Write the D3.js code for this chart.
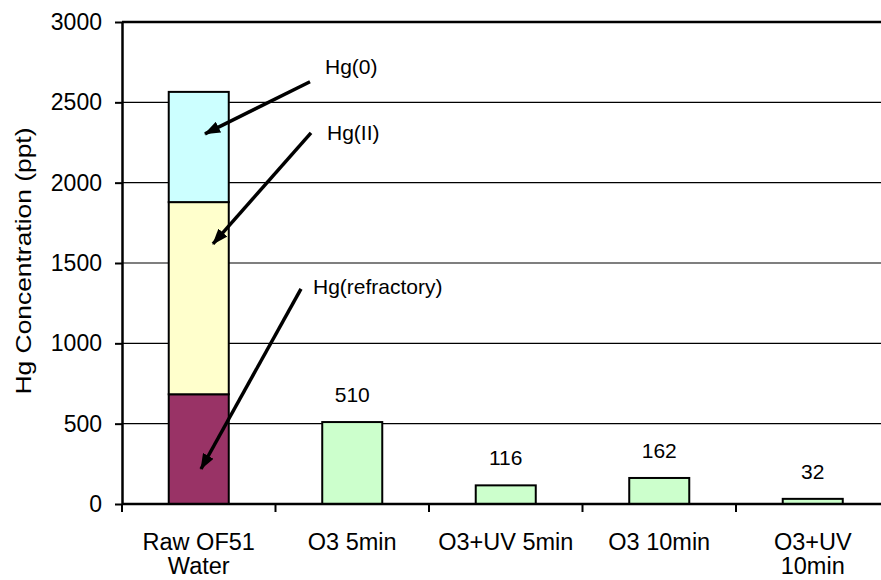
<!doctype html>
<html lang="en">
<head>
<meta charset="utf-8">
<title>Hg Concentration</title>
<script src="https://cdn.jsdelivr.net/npm/d3@7"></script>
<style>
	body { margin: 0; background: #fff; }
	svg { font-family: Arial, "Liberation Sans", sans-serif; display: block; }
</style>
</head>
<body>
<svg id="chart" width="881" height="580"></svg>
<script>
// data
var categories = ["Raw OF51 Water", "O3 5min", "O3+UV 5min", "O3 10min", "O3+UV 10min"];
var categoryLines = [["Raw OF51", "Water"], ["O3 5min"], ["O3+UV 5min"], ["O3 10min"], ["O3+UV", "10min"]];
var rawParts = ["Hg(refractory)", "Hg(II)", "Hg(0)"];
var rawValues = [683, 1196, 686];
var treated = ["O3 5min", "O3+UV 5min", "O3 10min", "O3+UV 10min"];
var treatedValues = [510, 116, 162, 32];
var yTicks = [0, 500, 1000, 1500, 2000, 2500, 3000];
// annotations: label, text value, arrow start value, arrow tip value
var noteLabels = ["Hg(0)", "Hg(II)", "Hg(refractory)"];
var noteTextValues = [2677, 2266, 1308];
var noteStartValues = [2628, 2310, 1339];
var noteTipValues = [2304, 1619, 218];

var partColors = {"Hg(refractory)": "#993366", "Hg(II)": "#ffffcc", "Hg(0)": "#ccffff"};

var svg = d3.select("#chart");
var plotLeft = 122, plotRight = 889.5, plotTop = 22, plotBottom = 504;

var xBand = d3.scaleBand().domain(categories).range([plotLeft, plotRight]).paddingInner(0.609).paddingOuter(0.3045);
var xSlot = d3.scaleBand().domain(categories).range([plotLeft, plotRight]).padding(0);
var yScale = d3.scaleLinear().domain([0, 3000]).range([plotBottom, plotTop]);

// gridlines
svg.append("g").selectAll("line.grid")
	.data(yTicks.filter(function(d) { return d > 0; }))
	.enter().append("line")
	.attr("class", "grid")
	.attr("x1", plotLeft).attr("x2", 881)
	.attr("y1", function(d) { return yScale(d); })
	.attr("y2", function(d) { return yScale(d); })
	.attr("stroke", "#000")
	.attr("stroke-width", function(d) { return d === 3000 ? 2.5 : 1.2; });

// stacked raw bar
var stack = [];
var acc = 0;
rawValues.forEach(function(v, i) {
	stack.push({name: rawParts[i], y0: acc, y1: acc + v});
	acc += v;
});
svg.append("g").selectAll("rect.raw")
	.data(stack)
	.enter().append("rect")
	.attr("class", "raw")
	.attr("x", xBand(categories[0]))
	.attr("width", xBand.bandwidth())
	.attr("y", function(d) { return yScale(d.y1); })
	.attr("height", function(d) { return yScale(d.y0) - yScale(d.y1); })
	.attr("fill", function(d) { return partColors[d.name]; })
	.attr("stroke", "#000")
	.attr("stroke-width", 2);

// treated bars
svg.append("g").selectAll("rect.treated")
	.data(treatedValues)
	.enter().append("rect")
	.attr("class", "treated")
	.attr("x", function(d, i) { return xBand(treated[i]); })
	.attr("width", xBand.bandwidth())
	.attr("y", function(d) { return yScale(d); })
	.attr("height", function(d) { return yScale(0) - yScale(d); })
	.attr("fill", "#ccffcc")
	.attr("stroke", "#000")
	.attr("stroke-width", 2);

// value labels
svg.append("g").selectAll("text.val")
	.data(treatedValues)
	.enter().append("text")
	.attr("class", "val")
	.attr("x", function(d, i) { return xBand(treated[i]) + xBand.bandwidth() / 2; })
	.attr("y", function(d) { return yScale(d) - 20; })
	.attr("text-anchor", "middle")
	.attr("font-size", 21)
	.attr("fill", "#000")
	.text(function(d) { return d; });

// y axis
var yAxis = d3.axisLeft(yScale).tickValues(yTicks).tickFormat(d3.format("d"))
	.tickSizeInner(7).tickSizeOuter(0).tickPadding(13);
var yG = svg.append("g").attr("transform", "translate(" + plotLeft + ",0)").call(yAxis);
yG.attr("font-size", 23).attr("font-family", "Arial, 'Liberation Sans', sans-serif");
yG.select(".domain").attr("stroke", "#000").attr("stroke-width", 2.5);
yG.selectAll(".tick line").attr("stroke", "#000").attr("stroke-width", 2);
yG.selectAll(".tick text").attr("fill", "#000");

// x axis line and ticks
svg.append("line")
	.attr("x1", plotLeft).attr("x2", 881)
	.attr("y1", yScale(0)).attr("y2", yScale(0))
	.attr("stroke", "#000").attr("stroke-width", 2.5);
svg.append("g").selectAll("line.xtick")
	.data(categories)
	.enter().append("line")
	.attr("class", "xtick")
	.attr("x1", function(d) { return xSlot(d); })
	.attr("x2", function(d) { return xSlot(d); })
	.attr("y1", yScale(0)).attr("y2", yScale(0) + 8)
	.attr("stroke", "#000").attr("stroke-width", 2);

// category labels
var catG = svg.append("g").selectAll("text.cat")
	.data(categories)
	.enter().append("text")
	.attr("class", "cat")
	.attr("x", function(d) { return xSlot(d) + xSlot.bandwidth() / 2; })
	.attr("y", 550)
	.attr("text-anchor", "middle")
	.attr("font-size", 23.5)
	.attr("fill", "#000");
catG.selectAll("tspan")
	.data(function(d, i) { return categoryLines[i]; })
	.enter().append("tspan")
	.attr("x", function() { var c = d3.select(this.parentNode).datum(); return xSlot(c) + xSlot.bandwidth() / 2; })
	.attr("dy", function(d, i) { return i === 0 ? 0 : 24; })
	.text(function(d) { return d; });

// y axis title
svg.append("text")
	.attr("transform", "translate(31,261) rotate(-90)")
	.attr("text-anchor", "middle")
	.attr("font-size", 22)
	.attr("textLength", 267)
	.attr("lengthAdjust", "spacingAndGlyphs")
	.attr("fill", "#000")
	.text("Hg Concentration (ppt)");

// annotations with arrows
svg.append("defs").append("marker")
	.attr("id", "head")
	.attr("viewBox", "0 0 16 12")
	.attr("refX", 15).attr("refY", 6)
	.attr("markerWidth", 16).attr("markerHeight", 12)
	.attr("markerUnits", "userSpaceOnUse")
	.attr("orient", "auto")
	.append("path").attr("d", "M0,0 L16,6 L0,12 Z").attr("fill", "#000");

var noteX = [325, 327, 313];
var startX = [310, 311, 301];
var tipX = [205, 213, 201];

svg.append("g").selectAll("line.arrow")
	.data(noteLabels)
	.enter().append("line")
	.attr("class", "arrow")
	.attr("x1", function(d, i) { return startX[i]; })
	.attr("y1", function(d, i) { return yScale(noteStartValues[i]); })
	.attr("x2", function(d, i) { return tipX[i]; })
	.attr("y2", function(d, i) { return yScale(noteTipValues[i]); })
	.attr("stroke", "#000")
	.attr("stroke-width", 3.5)
	.attr("marker-end", "url(#head)");

svg.append("g").selectAll("text.note")
	.data(noteLabels)
	.enter().append("text")
	.attr("class", "note")
	.attr("x", function(d, i) { return noteX[i]; })
	.attr("y", function(d, i) { return yScale(noteTextValues[i]); })
	.attr("font-size", 21)
	.attr("fill", "#000")
	.text(function(d) { return d; });
</script>
</body>
</html>
